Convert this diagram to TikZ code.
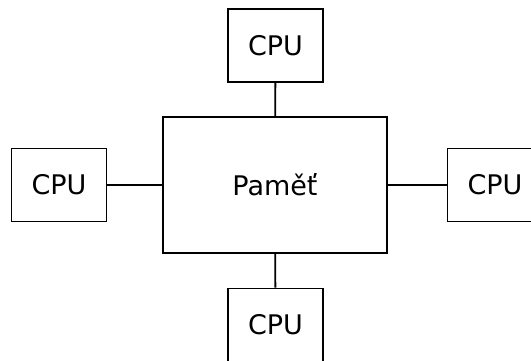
\documentclass[tikz,border=0pt]{standalone}
\usepackage{fontspec}
\setmainfont{DejaVu Sans}

\begin{document}
\begin{tikzpicture}[x=1pt, y=1pt]
		\tikzset{
			every node/.style={
				draw,
				line width=1.8pt,
				align=center,
				font=\fontsize{27}{32}\selectfont,
				inner sep=0pt
			},
			cpu/.style={
				rectangle,
				minimum width=95,
				minimum height=73
			},
			mem/.style={
				rectangle,
				minimum width=224,
				minimum height=136
			},
			line/.style={
				line width=1.8pt
			}
		}

		\useasboundingbox (0, 0) rectangle (531, 361);

		\node[mem] (mem) at (275, 176)
			{Paměť};

		\node[cpu] (cpu-top) at (275.5, 315.5)
			{CPU};
		\node[cpu] (cpu-left) at (59, 176)
			{CPU};
		\node[cpu] (cpu-right) at (495, 176)
			{CPU};
		\node[cpu] (cpu-bottom) at (275.5, 36)
			{CPU};

		\draw[line] (cpu-top) -- (mem);
		\draw[line] (cpu-left) -- (mem);
		\draw[line] (cpu-right) -- (mem);
		\draw[line] (cpu-bottom) -- (mem);

	\end{tikzpicture}
\end{document}
